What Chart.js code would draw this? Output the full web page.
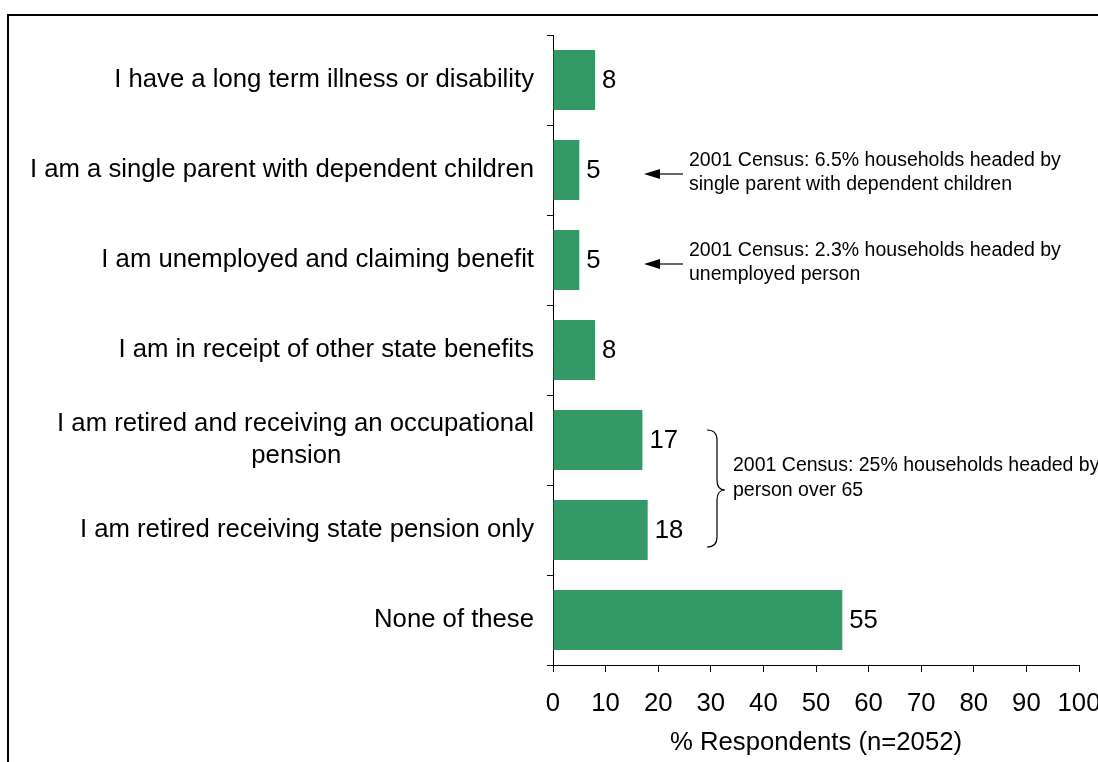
<!DOCTYPE html>
<html>
<head>
<meta charset="utf-8">
<script src="https://cdn.jsdelivr.net/npm/chart.js@4.4.1/dist/chart.umd.min.js"></script>
<style>
  html, body { margin: 0; padding: 0; background: #ffffff; }
  canvas { display: block; }
</style>
</head>
<body>
<canvas id="chart" width="1098" height="762"></canvas>
<script>
// ---- data -------------------------------------------------------------
// The wrapped label keeps its second line centred under the first one.
const WRAP_PAD = '\u00A0'.repeat(27);
const categories = [
  'I have a long term illness or disability',
  'I am a single parent with dependent children',
  'I am unemployed and claiming benefit',
  'I am in receipt of other state benefits',
  ['I am retired and receiving an occupational', 'pension' + WRAP_PAD],
  'I am retired receiving state pension only',
  'None of these'
];
const percentRespondents = [8, 5, 5, 8, 17, 18, 55];
const xMin = 0;
const xMax = 100;
const xStep = 10;
const xAxisTitle = '% Respondents (n=2052)';

const arrowNotes = [
  { row: 1, lines: ['2001 Census: 6.5% households headed by', 'single parent with dependent children'] },
  { row: 2, lines: ['2001 Census: 2.3% households headed by', 'unemployed person'] }
];
const braceNote = { rows: [4, 5], lines: ['2001 Census: 25% households headed by', 'person over 65'] };

// ---- styling ----------------------------------------------------------
const FONT = '"Liberation Sans", Arial, Helvetica, sans-serif';
const MAIN_SIZE = 25.7;
const NOTE_SIZE = 19.5;
const BAR_GREEN = '#339966';
Chart.defaults.font.family = FONT;
Chart.defaults.color = '#000000';

// value labels at the end of each bar
const valueLabels = {
  id: 'valueLabels',
  afterDatasetsDraw(chart) {
    const { ctx } = chart;
    const meta = chart.getDatasetMeta(0);
    ctx.save();
    ctx.font = MAIN_SIZE + 'px ' + FONT;
    ctx.fillStyle = '#000';
    ctx.textAlign = 'left';
    ctx.textBaseline = 'middle';
    meta.data.forEach((bar, i) => {
      ctx.fillText(String(percentRespondents[i]), bar.x + 7, bar.y + 1);
    });
    ctx.restore();
  }
};

// census notes, arrows, brace and the frame line
const notes = {
  id: 'notes',
  afterDraw(chart) {
    const { ctx } = chart;
    const y = chart.scales.y;
    ctx.save();
    ctx.fillStyle = '#000';
    ctx.strokeStyle = '#000';
    ctx.font = NOTE_SIZE + 'px ' + FONT;
    ctx.textAlign = 'left';
    ctx.textBaseline = 'middle';

    arrowNotes.forEach(n => {
      const cy = y.getPixelForValue(n.row);
      const ay = cy + 4;
      // arrow shaft
      ctx.lineWidth = 1.2;
      ctx.beginPath();
      ctx.moveTo(658, ay);
      ctx.lineTo(683, ay);
      ctx.stroke();
      // arrow head
      ctx.beginPath();
      ctx.moveTo(644, ay);
      ctx.lineTo(660, ay - 5);
      ctx.lineTo(660, ay + 5);
      ctx.closePath();
      ctx.fill();
      ctx.fillText(n.lines[0], 689, cy - 9);
      ctx.fillText(n.lines[1], 689, cy + 15);
    });

    // brace spanning the two pension rows
    const yTop = y.getPixelForValue(braceNote.rows[0]) - 10;
    const yBot = y.getPixelForValue(braceNote.rows[1]) + 17;
    const yMid = (y.getPixelForValue(braceNote.rows[0]) + y.getPixelForValue(braceNote.rows[1])) / 2 + 5;
    ctx.lineWidth = 1.2;
    ctx.beginPath();
    ctx.moveTo(707, yTop);
    ctx.quadraticCurveTo(717, yTop, 717, yTop + 10);
    ctx.lineTo(717, yMid - 10);
    ctx.quadraticCurveTo(717, yMid, 725, yMid);
    ctx.quadraticCurveTo(717, yMid, 717, yMid + 10);
    ctx.lineTo(717, yBot - 10);
    ctx.quadraticCurveTo(717, yBot, 707, yBot);
    ctx.stroke();
    ctx.fillText(braceNote.lines[0], 733, yMid - 24);
    ctx.fillText(braceNote.lines[1], 733, yMid + 1);

    // frame line along the top and left
    ctx.fillRect(7, 14, chart.width - 7, 2);
    ctx.fillRect(7, 14, 2, chart.height - 14);
    ctx.restore();
  }
};

new Chart(document.getElementById('chart'), {
  type: 'bar',
  data: {
    labels: categories,
    datasets: [{
      data: percentRespondents,
      backgroundColor: BAR_GREEN,
      borderWidth: 0,
      barPercentage: 0.667,
      categoryPercentage: 1
    }]
  },
  options: {
    indexAxis: 'y',
    responsive: false,
    animation: false,
    layout: { padding: { top: 35, right: 19, bottom: 0, left: 0 }, autoPadding: false },
    plugins: { legend: { display: false }, tooltip: { enabled: false } },
    scales: {
      x: {
        min: xMin,
        max: xMax,
        ticks: { stepSize: xStep, color: '#000', font: { size: MAIN_SIZE }, padding: 16, maxRotation: 0, autoSkip: false },
        grid: { drawOnChartArea: false, tickLength: 7, color: '#000', tickColor: '#000' },
        border: { color: '#000', width: 1 },
        title: { display: true, text: xAxisTitle, color: '#000', font: { size: MAIN_SIZE }, padding: { top: 0, bottom: 4 } },
        afterFit(scale) {
          scale.height = 97;
          scale.paddingLeft = 0;
          scale.paddingRight = 0;
        }
      },
      y: {
        ticks: { color: '#000', font: { size: MAIN_SIZE, lineHeight: 1.25 }, padding: 13, autoSkip: false },
        grid: { offset: true, drawOnChartArea: false, tickLength: 6, color: '#000', tickColor: '#000' },
        border: { color: '#000', width: 1 },
        afterFit(scale) {
          scale.width = 553;
          scale.paddingTop = 0;
          scale.paddingBottom = 0;
        }
      }
    }
  },
  plugins: [valueLabels, notes]
});
</script>
</body>
</html>
